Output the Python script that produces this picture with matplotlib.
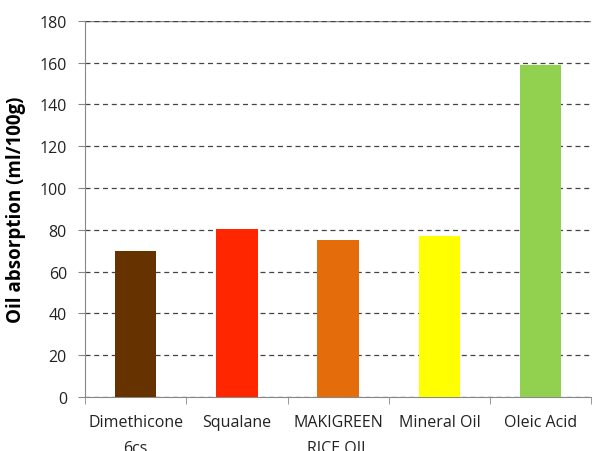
import matplotlib.pyplot as plt

# data
categories = ["Dimethicone\n6cs", "Squalane", "MAKIGREEN\nRICE OIL", "Mineral Oil", "Oleic Acid"]
values = [70, 80.5, 75, 77, 159]
colors = ["#663300", "#FF2600", "#E46C0A", "#FFFF00", "#92D050"]

plt.rcParams['font.family'] = ['Open Sans', 'DejaVu Sans']

fig = plt.figure(figsize=(5.97, 4.52), dpi=100)
ax = fig.add_axes([0.1424, 0.1195, 0.848, 0.832])

x = range(len(categories))
ax.bar(x, values, width=0.41, color=colors, zorder=3)

ax.set_ylim(0, 180)
ax.set_yticks(range(0, 181, 20))
ax.set_xlim(-0.5, len(categories) - 0.5)
ax.set_xticks(x)
ax.set_xticklabels(categories, fontsize=11.5, color="#222222", linespacing=1.85)
ax.tick_params(axis='x', length=0, pad=12)
ax.tick_params(axis='y', labelsize=11.5, colors="#222222", length=5, color="#888888", pad=8)
# category boundary ticks
ax.set_xticks([i - 0.5 for i in range(len(categories) + 1)], minor=True)
ax.tick_params(axis='x', which='minor', length=5, color="#888888")

ax.yaxis.grid(True, linestyle=(0, (4, 3)), color="#444444", linewidth=0.9, zorder=0)
ax.axhline(180, color="#888888", linewidth=1, zorder=1)

for s in ['top', 'right']:
    ax.spines[s].set_visible(False)
ax.spines['left'].set_color("#888888")
ax.spines['bottom'].set_color("#888888")

ax.set_ylabel("Oil absorption (ml/100g)", fontsize=13.5, fontweight='bold', labelpad=10)

fig.savefig("out.png", dpi=100)
